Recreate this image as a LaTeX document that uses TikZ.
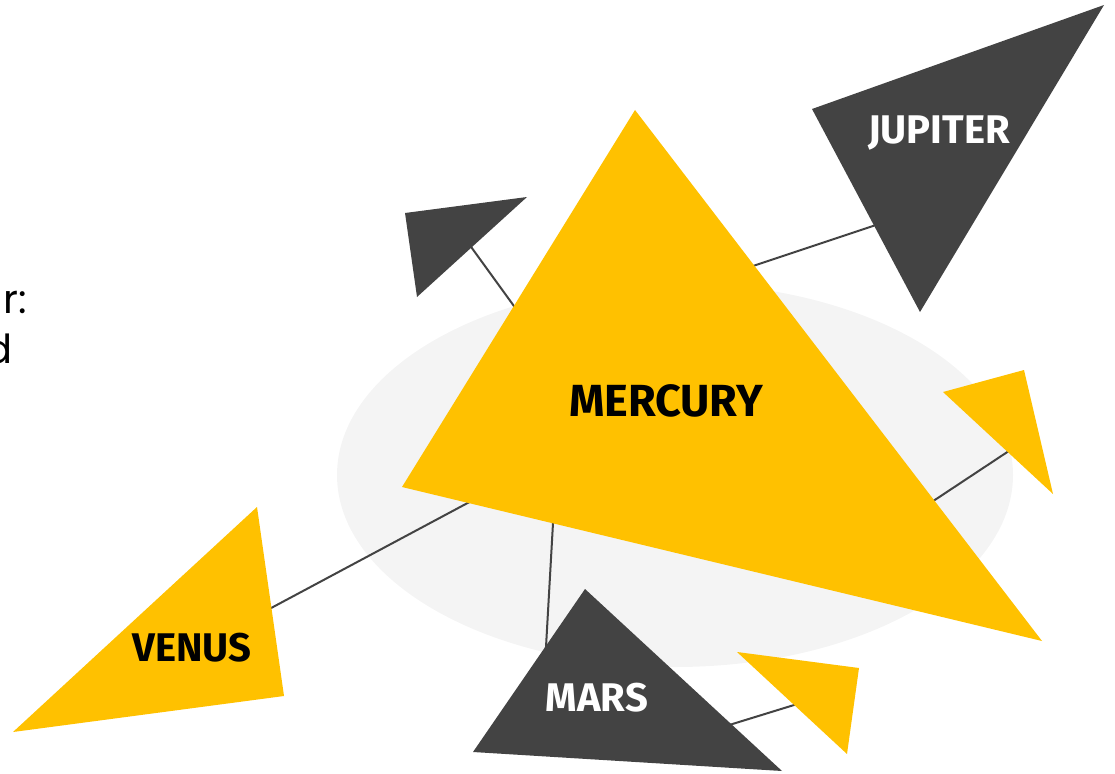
\documentclass[tikz,border=0pt]{standalone}
\usepackage{fontspec}
\setmainfont{Poppins}
\newfontfamily\labelfont{Fira Sans}
\definecolor{myyellow}{HTML}{FFC100}
\definecolor{mydark}{HTML}{434343}
\definecolor{myellipse}{HTML}{F4F4F4}
\begin{document}
\begin{tikzpicture}[x=1pt,y=-1pt,
  link/.style={draw=mydark,line width=2pt},
  ylw/.style={fill=myyellow},
  drk/.style={fill=mydark},
  lbl/.style={font=\labelfont\fontsize{40}{48}\selectfont\bfseries, inner sep=0pt},
  body/.style={font=\fontsize{40}{48}\selectfont, inner sep=0pt, anchor=base east}]
\useasboundingbox (0,0) rectangle (1115,773);
\clip (0,0) rectangle (1115,773);
% background ellipse
\fill[myellipse] (675,475) ellipse [x radius=338, y radius=192];
% connector end points (hidden under the shapes)
\coordinate (tlA) at (461,233);   \coordinate (tlB) at (540,342);
\coordinate (juA) at (720,277);   \coordinate (juB) at (900,217);
\coordinate (rtA) at (900,523);   \coordinate (rtB) at (1030,437);
\coordinate (veA) at (230,630);   \coordinate (veB) at (520,475);
\coordinate (maA) at (543,700);   \coordinate (maB) at (556,470);
\coordinate (boA) at (700,734);   \coordinate (boB) at (820,697);
\draw[link] (tlA) -- (tlB);
\draw[link] (juA) -- (juB);
\draw[link] (rtA) -- (rtB);
\draw[link] (veA) -- (veB);
\draw[link] (maA) -- (maB);
\draw[link] (boA) -- (boB);
% shapes
\fill[drk] (405,213) -- (527,197) -- (417,297) -- cycle;
\fill[drk] (812,109) -- (1104,5) -- (920,312) -- cycle;
\fill[ylw] (943,392) -- (1024,370) -- (1053,494) -- cycle;
\fill[ylw] (257,507) -- (284,696) -- (13,732) -- cycle;
\fill[drk] (585,589) -- (473,752) -- (782,771) -- cycle;
\fill[ylw] (737,652) -- (859,668) -- (847,754) -- cycle;
\fill[ylw] (635,110) -- (402,487) -- (1042,641) -- cycle;
% labels
\node[lbl, font=\labelfont\fontsize{45}{54}\selectfont\bfseries, text=black] (mercury) at (666,401) {MERCURY};
\node[lbl, text=white] (jupiter) at (939,133) {JUPITER};
\node[lbl, text=black] (venus) at (192,648) {VENUS};
\node[lbl, text=white] (mars) at (597,698) {MARS};
% cut-off body text at the left edge
\node[body] (t1) at (27,313) {r:};
\node[body] (t2) at (13,363) {d};
\end{tikzpicture}
\end{document}
